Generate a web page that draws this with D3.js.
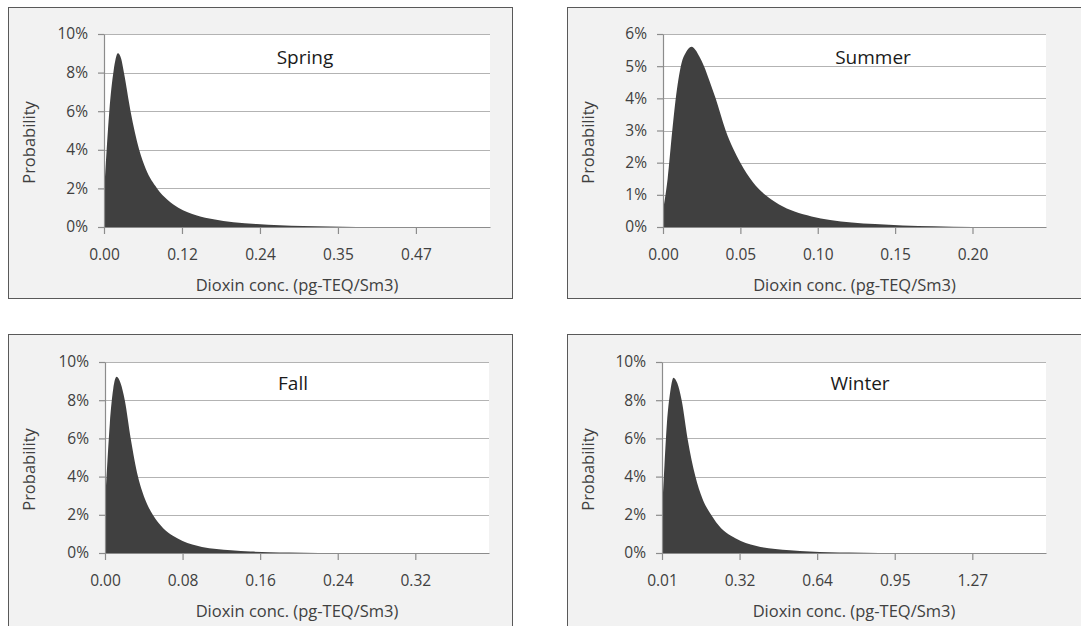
<!DOCTYPE html>
<html>
<head>
<meta charset="utf-8">
<script src="https://cdn.jsdelivr.net/npm/d3@7"></script>
<style>
  body { margin: 0; background: #fff; }
  text { font-family: "Open Sans", sans-serif; fill: #404040; }
</style>
</head>
<body>
<div id="chart"></div>
<script>
// values: concentration (pg-TEQ/Sm3) and probability (%)
var springConc = [0, 0.004, 0.008, 0.0145, 0.021, 0.026, 0.030, 0.040, 0.053, 0.063, 0.080, 0.096, 0.112, 0.140, 0.165, 0.195, 0.230, 0.265, 0.300, 0.340, 0.380];
var springProb = [1.7, 4.0, 6.0, 8.1, 9.0, 8.7, 8.0, 6.0, 4.0, 3.0, 2.0, 1.4, 1.0, 0.6, 0.4, 0.25, 0.15, 0.09, 0.05, 0.02, 0.0];

var summerConc = [0, 0.003, 0.006, 0.008, 0.010, 0.012, 0.0145, 0.017, 0.0185, 0.021, 0.0235, 0.0265, 0.030, 0.034, 0.0405, 0.050, 0.058, 0.066, 0.075, 0.085, 0.096, 0.108, 0.122, 0.137, 0.155, 0.175, 0.200];
var summerProb = [0.5, 1.5, 3.0, 3.9, 4.6, 5.1, 5.4, 5.57, 5.6, 5.5, 5.3, 5.0, 4.55, 4.0, 3.0, 2.0, 1.4, 1.0, 0.7, 0.48, 0.33, 0.22, 0.14, 0.09, 0.05, 0.025, 0.0];

var fallConc = [0, 0.0025, 0.005, 0.0085, 0.012, 0.016, 0.0204, 0.0265, 0.034, 0.041, 0.0493, 0.060, 0.070, 0.080, 0.090, 0.100, 0.115, 0.130, 0.150, 0.170, 0.190, 0.220];
var fallProb = [2.6, 4.8, 6.8, 8.6, 9.23, 8.9, 8.0, 6.0, 4.0, 2.85, 2.0, 1.3, 0.9, 0.63, 0.45, 0.32, 0.21, 0.14, 0.08, 0.045, 0.02, 0.0];

var winterConc = [0.01, 0.02, 0.03, 0.043, 0.0566, 0.072, 0.0898, 0.1137, 0.1457, 0.174, 0.2095, 0.250, 0.290, 0.330, 0.370, 0.410, 0.470, 0.530, 0.610, 0.690, 0.770, 0.890];
var winterProb = [2.1, 4.6, 6.8, 8.4, 9.18, 8.9, 8.0, 6.0, 4.0, 2.85, 2.0, 1.3, 0.9, 0.63, 0.45, 0.32, 0.21, 0.14, 0.08, 0.045, 0.02, 0.0];

// category-axis labels as printed
var springTicks = ["0.00", "0.12", "0.24", "0.35", "0.47"];
var summerTicks = ["0.00", "0.05", "0.10", "0.15", "0.20"];
var fallTicks = ["0.00", "0.08", "0.16", "0.24", "0.32"];
var winterTicks = ["0.01", "0.32", "0.64", "0.95", "1.27"];

var seasons = ["Spring", "Summer", "Fall", "Winter"];

var width = 1081, height = 626;
var svg = d3.select("#chart").append("svg")
    .attr("width", width)
    .attr("height", height);

var panels = [
  {name: seasons[0], box: [8.5, 7.5, 504, 291], plot: [104, 34, 490, 227], x0: 0, step: 0.1175, ticks: springTicks,
   yMax: 10, yStep: 2, xs: springConc, ys: springProb, title: [305, 64]},
  {name: seasons[1], box: [567.5, 7.5, 600, 291], plot: [663, 34, 1046, 227], x0: 0, step: 0.05, ticks: summerTicks,
   yMax: 6, yStep: 1, xs: summerConc, ys: summerProb, title: [873, 64]},
  {name: seasons[2], box: [8.5, 334.5, 504, 400], plot: [105, 362, 489, 553], x0: 0, step: 0.08, ticks: fallTicks,
   yMax: 10, yStep: 2, xs: fallConc, ys: fallProb, title: [293, 390]},
  {name: seasons[3], box: [567.5, 334.5, 600, 400], plot: [662, 362, 1046, 553], x0: 0.01, step: 0.315, ticks: winterTicks,
   yMax: 10, yStep: 2, xs: winterConc, ys: winterProb, title: [860, 390]}
];

panels.forEach(drawPanel);

function drawPanel(p) {
  var g = svg.append("g");
  var left = p.plot[0], top = p.plot[1], right = p.plot[2], bottom = p.plot[3];

  // chart area
  g.append("rect")
      .attr("x", p.box[0]).attr("y", p.box[1])
      .attr("width", p.box[2]).attr("height", p.box[3])
      .attr("fill", "#f2f2f2")
      .attr("stroke", "#595959");

  g.append("rect")
      .attr("x", left).attr("y", top)
      .attr("width", right - left).attr("height", bottom - top)
      .attr("fill", "#fff");

  var x = d3.scaleLinear().domain([p.x0, p.x0 + 4.95 * p.step]).range([left, right]);
  var y = d3.scaleLinear().domain([0, p.yMax]).range([bottom, top]);

  var yVals = d3.range(0, p.yMax + p.yStep / 2, p.yStep);

  // gridlines
  g.append("g")
    .selectAll("line")
    .data(yVals.slice(1))
    .join("line")
      .attr("x1", left).attr("x2", right)
      .attr("y1", d => Math.round(y(d)) + 0.5)
      .attr("y2", d => Math.round(y(d)) + 0.5)
      .attr("stroke", "#b3b3b3")
      .attr("stroke-width", 1.2);

  // distribution
  var pts = p.xs.map((v, i) => [v, p.ys[i]]);
  var area = d3.area()
      .x(d => x(d[0]))
      .y0(y(0))
      .y1(d => y(d[1]))
      .curve(d3.curveMonotoneX);

  g.append("path")
      .datum(pts)
      .attr("d", area)
      .attr("fill", "#404040");

  // axes
  var yAxis = g.append("g")
      .attr("transform", "translate(" + left + ",0)")
      .call(d3.axisLeft(y)
        .tickValues(yVals)
        .tickSize(6)
        .tickSizeOuter(0)
        .tickPadding(10)
        .tickFormat(d => d + "%"));

  var tickPos = p.ticks.map((t, i) => p.x0 + i * p.step);
  var xAxis = g.append("g")
      .attr("transform", "translate(0," + bottom + ")")
      .call(d3.axisBottom(x)
        .tickValues(tickPos)
        .tickSize(7)
        .tickSizeOuter(0)
        .tickPadding(15)
        .tickFormat((d, i) => p.ticks[i]));

  [yAxis, xAxis].forEach(a => {
    a.selectAll("path, line").attr("stroke", "#8c8c8c").attr("stroke-width", 1.2);
    a.selectAll("text")
      .style("font-family", "'Open Sans', sans-serif")
      .style("font-size", "15.5px")
      .attr("fill", "#404040");
  });

  // labels
  g.append("text")
      .attr("x", p.title[0]).attr("y", p.title[1])
      .attr("text-anchor", "middle")
      .style("font-size", "19px")
      .style("fill", "#1a1a1a")
      .text(p.name);

  g.append("text")
      .attr("transform", "translate(" + (p.box[0] + 21) + "," + ((top + bottom) / 2 + 12) + ") rotate(-90)")
      .attr("text-anchor", "middle")
      .attr("dy", "0.35em")
      .style("font-size", "16.5px")
      .text("Probability");

  g.append("text")
      .attr("x", (left + right) / 2)
      .attr("y", bottom + 64)
      .attr("text-anchor", "middle")
      .style("font-size", "16.5px")
      .text("Dioxin conc. (pg-TEQ/Sm3)");
}
</script>
</body>
</html>
